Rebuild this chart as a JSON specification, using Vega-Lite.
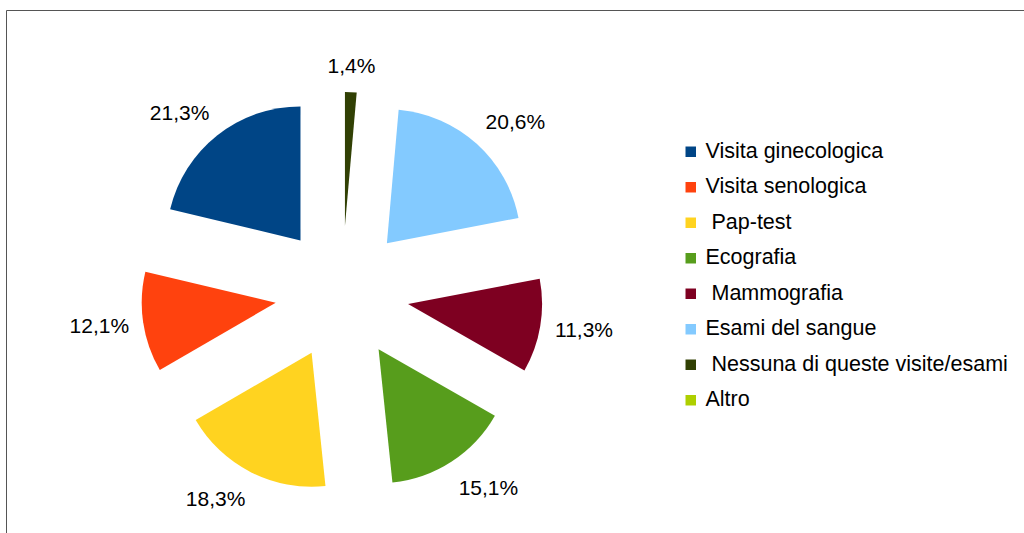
{
  "$schema": "https://vega.github.io/schema/vega-lite/v6.json",
  "width": 1018,
  "height": 523,
  "autosize": {"type": "none"},
  "padding": {"left": 6, "top": 10, "right": 0, "bottom": 0},
  "background": "white",
  "config": {
    "view": {"stroke": "#555555", "strokeWidth": 1},
    "font": "Liberation Sans"
  },
  "data": {
    "values": [
      {"categoria": "Visita ginecologica", "value": 21.3},
      {"categoria": "Visita senologica", "value": 12.1},
      {"categoria": "\u200b\u00a0Pap-test", "value": 18.3},
      {"categoria": "Ecografia", "value": 15.1},
      {"categoria": "\u200b\u00a0Mammografia", "value": 11.3},
      {"categoria": "Esami del sangue", "value": 20.6},
      {"categoria": "\u200b\u00a0Nessuna di queste visite/esami", "value": 1.4},
      {"categoria": "Altro", "value": 0}
    ]
  },
  "transform": [
    {"joinaggregate": [{"op": "sum", "field": "value", "as": "total"}]},
    {"window": [{"op": "sum", "field": "value", "as": "cum"}], "frame": [null, 0]},
    {"calculate": "1 - datum.cum/datum.total", "as": "t0"},
    {"calculate": "1 - (datum.cum - datum.value)/datum.total", "as": "t1"},
    {"calculate": "PI*(datum.t0 + datum.t1)", "as": "mid"},
    {"calculate": "0.5*sin(datum.mid)", "as": "cx"},
    {"calculate": "0.5*cos(datum.mid)", "as": "cy"},
    {"calculate": "1.619*sin(datum.mid) + (abs(sin(datum.mid)) > 0.3 ? (sin(datum.mid) > 0 ? 0.209 : -0.209) : 0)", "as": "lx"},
    {"calculate": "1.619*cos(datum.mid) + (abs(cos(datum.mid)) > 0.3 ? (cos(datum.mid) > 0 ? 0.085 : -0.085) : 0)", "as": "ly"},
    {"calculate": "replace(format(datum.value, '.1f'), '.', ',') + '%'", "as": "label"}
  ],
  "layer": [
    {
      "mark": {"type": "arc", "outerRadius": 134, "stroke": null},
      "encoding": {
        "x": {"field": "cx", "type": "quantitative", "axis": null,
              "scale": {"domain": [-2.5075, 5.0896], "nice": false, "zero": false}},
        "y": {"field": "cy", "type": "quantitative", "axis": null,
              "scale": {"domain": [-1.7910, 2.1119], "nice": false, "zero": false}},
        "theta": {"field": "t0", "type": "quantitative", "stack": null,
                  "scale": {"domain": [0, 1], "range": [0, 6.283185307179586]}},
        "theta2": {"field": "t1"},
        "color": {
          "field": "categoria", "type": "nominal",
          "scale": {
            "domain": ["Visita ginecologica", "Visita senologica", "\u200b\u00a0Pap-test", "Ecografia", "\u200b\u00a0Mammografia", "Esami del sangue", "\u200b\u00a0Nessuna di queste visite/esami", "Altro"],
            "range": ["#004586", "#ff420e", "#ffd320", "#579d1c", "#7e0021", "#83caff", "#314004", "#aecf00"]
          },
          "legend": {
            "title": null,
            "orient": "none",
            "legendX": 674,
            "legendY": 131,
            "padding": 0,
            "symbolType": "square",
            "symbolSize": 110,
            "symbolStrokeWidth": 0,
            "labelFont": "Liberation Sans",
            "labelFontSize": 21.5,
            "labelColor": "#000000",
            "labelOffset": 4,
            "labelLimit": 400,
            "rowPadding": 12.5
          }
        }
      }
    },
    {
      "transform": [{"filter": "datum.value > 0"}],
      "mark": {"type": "text", "align": "center", "baseline": "middle", "dy": 2.5, "fontSize": 21, "font": "Liberation Sans", "color": "#000000"},
      "encoding": {
        "x": {"field": "lx", "type": "quantitative"},
        "y": {"field": "ly", "type": "quantitative"},
        "text": {"field": "label", "type": "nominal"}
      }
    }
  ]
}
